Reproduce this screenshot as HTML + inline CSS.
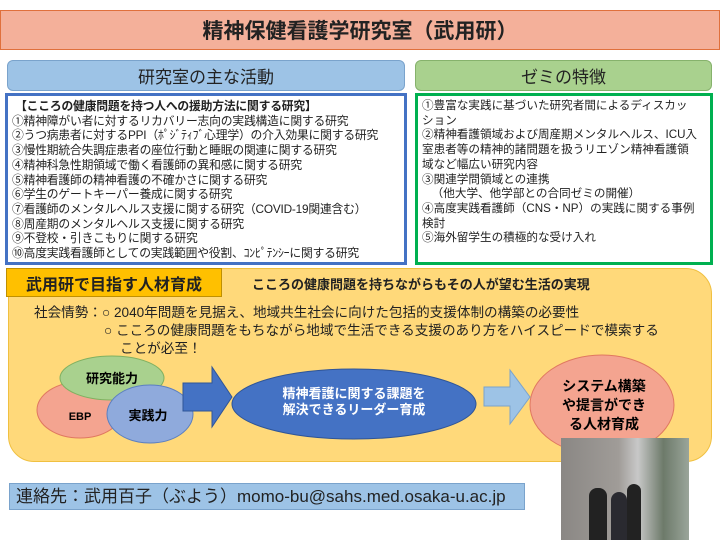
<!DOCTYPE html>
<html><head><meta charset="utf-8"><style>
*{margin:0;padding:0;box-sizing:border-box}
body{width:720px;height:540px;background:#fff;position:relative;overflow:hidden;font-family:"Liberation Sans","Noto Sans CJK JP",sans-serif;color:#222}
.a{position:absolute}
.t{font-size:11.8px;line-height:14.7px;white-space:nowrap}
.c{display:flex;align-items:center;justify-content:center;text-align:center}
</style></head><body>
<div class="a c" style="left:0;top:10px;width:720px;height:40px;background:#f4b09a;border:1px solid #e0703c;font-size:21px;font-weight:bold;color:#222">精神保健看護学研究室（武用研）</div>
<div class="a c" style="left:7px;top:60px;width:398px;height:31px;background:#9dc3e6;border:1px solid #7aa3cc;border-radius:6px;font-size:17px">研究室の主な活動</div>
<div class="a c" style="left:415px;top:60px;width:297px;height:31px;background:#a9d18e;border:1px solid #86b26c;border-radius:6px;font-size:17px">ゼミの特徴</div>
<div class="a t" style="left:5px;top:93px;width:402px;height:172px;border:3px solid #4472c4;padding:3px 0 0 4px;letter-spacing:-0.2px">
<b>&nbsp;【こころの健康問題を持つ人への援助方法に関する研究】</b><br>①精神障がい者に対するリカバリー志向の実践構造に関する研究<br>②うつ病患者に対するPPI（ﾎﾟｼﾞﾃｨﾌﾞ心理学）の介入効果に関する研究<br>③慢性期統合失調症患者の座位行動と睡眠の関連に関する研究<br>④精神科急性期領域で働く看護師の異和感に関する研究<br>⑤精神看護師の精神看護の不確かさに関する研究<br>⑥学生のゲートキーパー養成に関する研究<br>⑦看護師のメンタルヘルス支援に関する研究（COVID-19関連含む）<br>⑧周産期のメンタルヘルス支援に関する研究<br>⑨不登校・引きこもりに関する研究<br>⑩高度実践看護師としての実践範囲や役割、ｺﾝﾋﾟﾃﾝｼｰに関する研究</div>
<div class="a t" style="left:415px;top:93px;width:298px;height:172px;border:3px solid #00b050;padding:3px 0 0 4px;font-size:11.6px">①豊富な実践に基づいた研究者間によるディスカッ<br>ション<br>②精神看護領域および周産期メンタルヘルス、ICU入<br>室患者等の精神的諸問題を扱うリエゾン精神看護領<br>域など幅広い研究内容<br>③関連学問領域との連携<br>&nbsp;&nbsp;&nbsp;（他大学、他学部との合同ゼミの開催）<br>④高度実践看護師（CNS・NP）の実践に関する事例<br>検討<br>⑤海外留学生の積極的な受け入れ</div>
<div class="a" style="left:8px;top:268px;width:704px;height:194px;background:#ffd97a;border:1px solid #f0c040;border-radius:26px"></div>
<div class="a c" style="left:6px;top:268px;width:216px;height:29px;background:#ffc000;border:1px solid #c09000;font-size:16px;font-weight:bold">武用研で目指す人材育成</div>
<div class="a" style="left:252px;top:274px;font-size:13px;font-weight:bold;white-space:nowrap">こころの健康問題を持ちながらもその人が望む生活の実現</div>
<div class="a" style="left:34px;top:304px;font-size:13.6px;line-height:18px;white-space:nowrap">社会情勢：○ 2040年問題を見据え、地域共生社会に向けた包括的支援体制の構築の必要性<br><span style="padding-left:70px">○ こころの健康問題をもちながら地域で生活できる支援のあり方をハイスピードで模索する</span><br><span style="padding-left:86px">ことが必至！</span></div>
<svg class="a" style="left:0;top:0" width="720" height="540">
<ellipse cx="80" cy="410" rx="43" ry="28" fill="#f4a490" stroke="#e07860"/>
<ellipse cx="112" cy="378" rx="52" ry="22" fill="#a9d18e" stroke="#80b060"/>
<ellipse cx="150" cy="414" rx="43" ry="29" fill="#8faadc" stroke="#5b7fc0"/>
<polygon points="183,383 212,383 212,367 232,397 212,427 212,411 183,411" fill="#4472c4" stroke="#2f5597"/>
<ellipse cx="354" cy="404" rx="122" ry="35" fill="#4472c4" stroke="#2f5597"/>
<polygon points="484,387 510,387 510,370 530,397 510,424 510,406 484,406" fill="#9dc3e6" stroke="#7aa3cc"/>
<ellipse cx="602" cy="405" rx="72" ry="50" fill="#f4a490" stroke="#e07860"/>
<g font-family="Liberation Sans,Noto Sans CJK JP,sans-serif" font-weight="bold" text-anchor="middle">
<text x="112" y="383" font-size="13">研究能力</text>
<text x="80" y="420" font-size="11">EBP</text>
<text x="148" y="420" font-size="13">実践力</text>
<text x="354" y="398" font-size="13" fill="#fff">精神看護に関する課題を</text>
<text x="354" y="414" font-size="13" fill="#fff">解決できるリーダー育成</text>
<text x="604" y="391" font-size="14">システム構築</text>
<text x="604" y="410" font-size="14">や提言ができ</text>
<text x="604" y="429" font-size="14">る人材育成</text>
</g></svg>
<div class="a" style="left:9px;top:483px;width:516px;height:27px;background:#9dc3e6;border:1px solid #7aa3cc;font-size:17px;line-height:26px;padding-left:6px;white-space:nowrap">連絡先：武用百子（ぶよう）momo-bu@sahs.med.osaka-u.ac.jp</div>
<div class="a" style="left:561px;top:438px;width:128px;height:102px;background:linear-gradient(90deg,#8a8784 0%,#a09c98 45%,#c8c8c8 60%,#6d7a6a 80%,#9aa59a 100%)">
<div class="a" style="left:28px;top:50px;width:18px;height:52px;background:#222;border-radius:8px 8px 0 0"></div>
<div class="a" style="left:50px;top:54px;width:16px;height:48px;background:#2a2a30;border-radius:8px 8px 0 0"></div>
<div class="a" style="left:66px;top:46px;width:14px;height:56px;background:#222;border-radius:7px 7px 0 0"></div>
</div>
</body></html>
